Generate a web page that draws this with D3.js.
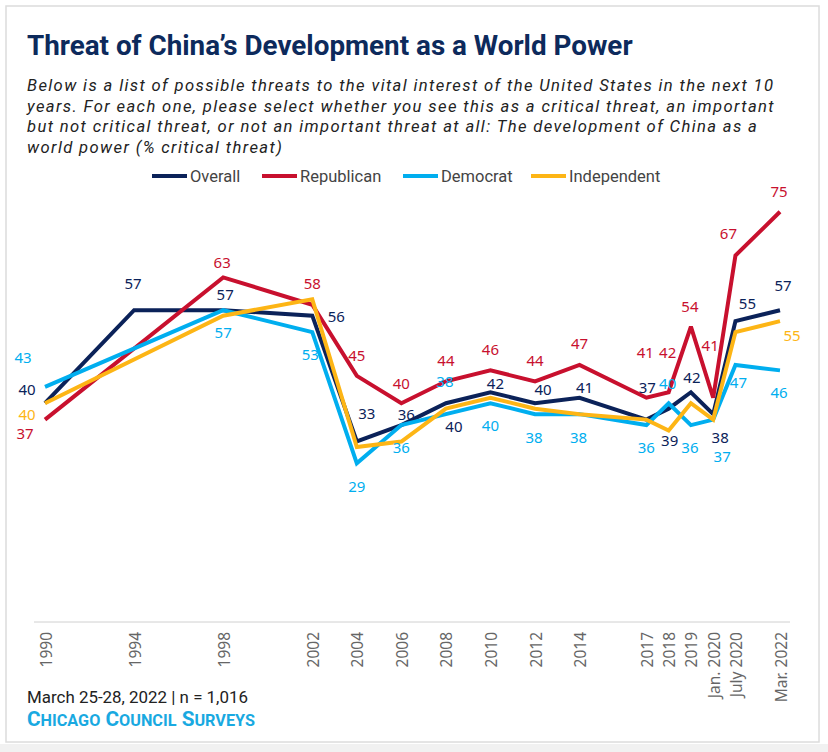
<!DOCTYPE html>
<html>
<head>
<meta charset="utf-8">
<script src="https://cdn.jsdelivr.net/npm/d3@7"></script>
<style>
  html, body { margin: 0; padding: 0; background: #fff; }
  svg { display: block; }
</style>
</head>
<body>
<svg id="chart" width="828" height="752"></svg>
<script>
// ---------------- DATA ----------------
const categories = ["1990","1994","1998","2002","2004","2006","2008","2010","2012","2014","2017","2018","2019","Jan. 2020","July 2020","Mar. 2022"];
const xSlots = [1990,1994,1998,2002,2004,2006,2008,2010,2012,2014,2017,2018,2019,2020,2021,2023];
const overall     = [40,57,57,56,33,36,40,42,40,41,37,39,42,38,55,57];
const republican  = [37,null,63,58,45,40,44,46,44,47,41,42,54,41,67,75];
const democrat    = [43,null,57,53,29,36,38,40,38,38,36,40,36,37,47,46];
const independent = [40,null,56,59,32,33,39,41,39,38,37,35,40,37,53,55];
const seriesNames = ["Overall","Republican","Democrat","Independent"];

const titleText = "Threat of China\u2019s Development as a World Power";
const subtitleLines = [
  "Below is a list of possible threats to the vital interest of the United States in the next 10",
  "years. For each one, please select whether you see this as a critical threat, an important",
  "but not critical threat, or not an important threat at all: The development of China as a",
  "world power (% critical threat)"
];
const footerText = "March 25-28, 2022 | n = 1,016";
const sourceWords = ["CHICAGO", "COUNCIL", "SURVEYS"];

// ---------------- LAYOUT / STYLE ----------------
const colors = { Overall: "#0b2259", Republican: "#c8102e", Democrat: "#00aeef", Independent: "#fdb515" };
// label offsets (px) relative to each point; null = no label
const labelOffsets = {
  Overall: [[-18,-14],[-1,-27],[2,-16],[24,0],[10,-28],[5,-11],[8,23],[5,-9],[8,-14],[5,-11],[1,-33],[1,31],[1,-15],[7,23],[12,-18],[3,-25]],
  Republican: [[-20,13],null,[-1,-15],[0,-22],[0,-21],[0,-20],[0,-21],[0,-21],[0,-21],[0,-22],[-1,-46],[-1,-40],[-1,-21],[-3,-53],[-7,-23],[-1,-21]],
  Democrat: [[-22,-30],null,[0,22],[-2,22],[0,23],[0,22],[-1,-33],[0,22],[-1,23],[-1,23],[0,22],[-1,-20],[-1,22],[9,36],[3,17],[-1,22]],
  Independent: [[-18,11],null,null,null,null,null,null,null,null,null,null,null,null,null,null,[12,14]]
};
const valuesBy = { Overall: overall, Republican: republican, Democrat: democrat, Independent: independent };

const svg = d3.select("#chart");
const FONT = "Roboto, 'Noto Sans', sans-serif";
const NUMFONT = "'Noto Sans', 'DejaVu Sans', sans-serif";

function fitWidth(sel, target) {
  const w = sel.node().getComputedTextLength();
  const fs = parseFloat(sel.attr("font-size"));
  sel.attr("font-size", fs * target / w);
  return fs * target / w;
}
function spreadTo(sel, target) {
  const txt = sel.text();
  const w = sel.node().getComputedTextLength();
  const ls = (target - w) / Math.max(1, txt.length - 1);
  sel.attr("letter-spacing", ls);
  return ls;
}

// frame
svg.append("rect").attr("x", 0).attr("y", 744).attr("width", 828).attr("height", 8).attr("fill", "#f1f1f1");
svg.append("rect").attr("x", 6).attr("y", 6).attr("width", 813).attr("height", 736)
  .attr("fill", "#fff").attr("stroke", "#dcdcdc").attr("stroke-width", 1.5);

// title
const title = svg.append("text").attr("x", 27).attr("y", 55)
  .attr("font-family", FONT).attr("font-weight", 700).attr("font-size", 23)
  .attr("fill", "#0d2a5c").text(titleText);
fitWidth(title, 606);

// subtitle
const subBase = [91, 111.5, 132, 152.5];
let subLS = null;
subtitleLines.forEach((t, i) => {
  const s = svg.append("text").attr("x", 27).attr("y", subBase[i])
    .attr("font-family", FONT).attr("font-style", "italic").attr("font-size", 16.6)
    .attr("fill", "#222").text(t);
  if (i === 0) subLS = spreadTo(s, 746); else s.attr("letter-spacing", subLS);
});

// legend
const legendX = [152, 262, 403, 531];
seriesNames.forEach((n, i) => {
  const g = svg.append("g").attr("transform", `translate(${legendX[i]},176)`);
  g.append("line").attr("x1", 0).attr("x2", 35).attr("y1", 0).attr("y2", 0)
    .attr("stroke", colors[n]).attr("stroke-width", 4);
  g.append("text").attr("x", 38).attr("y", 0).attr("dy", "0.35em")
    .attr("font-family", FONT).attr("font-size", 16.5).attr("fill", "#444").text(n);
});

// scales
const x = d3.scaleLinear().domain([1990, 2023]).range([45, 780]);
const y = d3.scaleLinear().domain([0, 80]).range([622, 184.4]);

// baseline
svg.append("line").attr("x1", 34).attr("x2", 790).attr("y1", y(0)).attr("y2", y(0))
  .attr("stroke", "#d0d0d0").attr("stroke-width", 1);

// x axis labels
const axis = d3.axisBottom(x).tickValues(xSlots).tickSize(0)
  .tickFormat((d, i) => categories[i]);
const axG = svg.append("g").attr("transform", `translate(0,${y(0)})`).call(axis);
axG.select(".domain").remove();
axG.selectAll(".tick text")
  .attr("font-family", NUMFONT).attr("font-size", 15.5).attr("fill", "#666")
  .attr("text-anchor", "end").attr("dominant-baseline", "central")
  .attr("transform", "rotate(-90)").attr("x", -10).attr("y", 0).attr("dy", null);

// lines
const line = d3.line().x(d => x(d.t)).y(d => y(d.v)).curve(d3.curveLinear);
seriesNames.forEach(n => {
  const pts = valuesBy[n].map((v, i) => ({ t: xSlots[i], v })).filter(d => d.v !== null);
  svg.append("path").datum(pts).attr("d", line)
    .attr("fill", "none").attr("stroke", colors[n]).attr("stroke-width", 4)
    .attr("stroke-linejoin", "miter").attr("stroke-miterlimit", 3);
});

// data labels
seriesNames.forEach(n => {
  valuesBy[n].forEach((v, i) => {
    const off = labelOffsets[n][i];
    if (v === null || !off) return;
    svg.append("text").attr("x", x(xSlots[i]) + off[0]).attr("y", y(v) + off[1])
      .attr("text-anchor", "middle").attr("dominant-baseline", "central")
      .attr("font-family", NUMFONT).attr("font-size", 15).attr("fill", colors[n])
      .text(v);
  });
});

// footer
const foot = svg.append("text").attr("x", 27).attr("y", 703)
  .attr("font-family", FONT).attr("font-size", 15).attr("fill", "#222").text(footerText);
fitWidth(foot, 221);

const src = svg.append("text").attr("x", 27).attr("y", 726)
  .attr("font-family", FONT).attr("font-weight", 700).attr("fill", "#19a9e1").attr("font-size", 15);
sourceWords.forEach((w, i) => {
  src.append("tspan").attr("font-size", 16).text((i ? " " : "") + w[0]);
  src.append("tspan").attr("font-size", 12.5).text(w.slice(1));
});
const sw = src.node().getComputedTextLength();
const k = 228 / sw;
src.selectAll("tspan").each(function() {
  const t = d3.select(this);
  t.attr("font-size", parseFloat(t.attr("font-size")) * k);
});
</script>
</body>
</html>
